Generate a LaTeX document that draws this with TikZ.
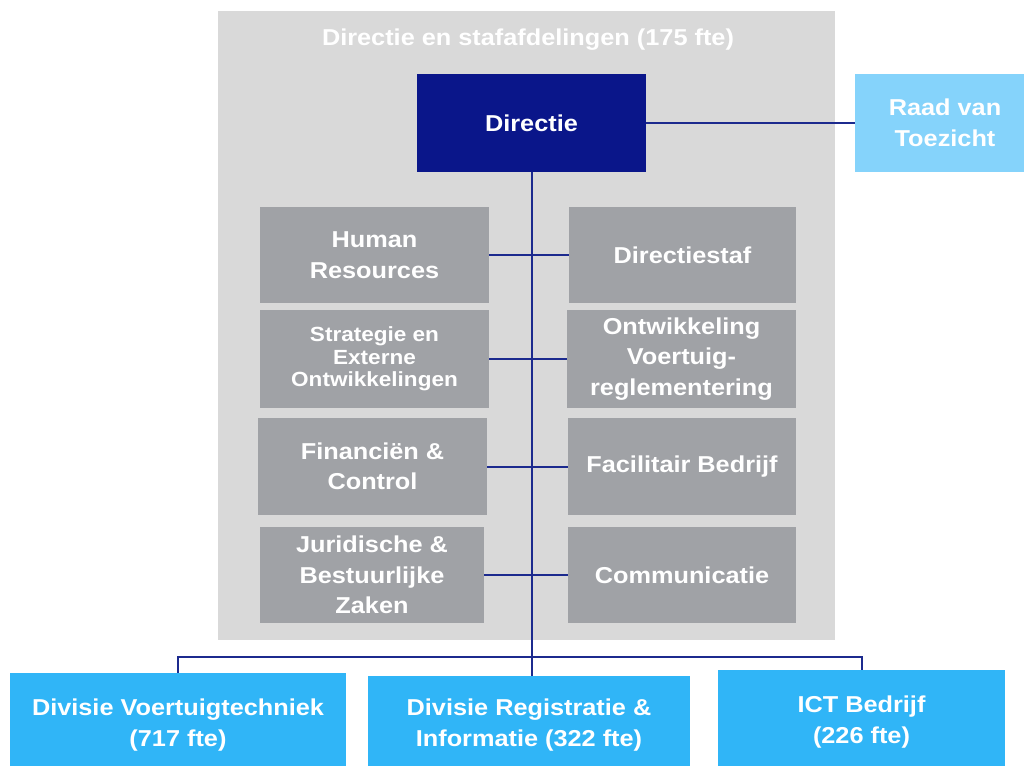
\documentclass[tikz,border=0pt]{standalone}
\usepackage{fontspec}
\setmainfont{Liberation Sans}[FakeStretch=1.1]
\definecolor{bgc}{HTML}{D9D9D9}
\definecolor{grayc}{HTML}{A0A2A6}
\definecolor{navyc}{HTML}{0A168A}
\definecolor{raadc}{HTML}{85D3FB}
\definecolor{divc}{HTML}{30B5F7}
\definecolor{linec}{HTML}{1C2A8E}
\newcommand\mainfnt{\fontsize{23}{30.5}\selectfont\bfseries}
\newcommand\smallfnt{\fontsize{20.5}{22.5}\selectfont\bfseries}
\tikzset{
  box/.style={rectangle, inner sep=0pt, align=center, text=white, font=\mainfnt},
  graybox/.style={box, fill=grayc},
  conn/.style={draw=linec, line width=2pt}
}
\begin{document}
\begin{tikzpicture}[x=1pt,y=-1pt]
\clip (0,0) rectangle (1024,765);
\fill[white] (0,0) rectangle (1024,765);
\fill[bgc] (218,11) rectangle (835,640);
\node[box] (title) at (528,40) {Directie en stafafdelingen (175 fte)};
\node[box, fill=navyc, minimum width=229pt, minimum height=98pt] (dir) at (531.5,123) {Directie};
\node[box, fill=raadc, minimum width=169pt, minimum height=98pt] (raad) at (939.5,123) {\hspace*{11pt}Raad van\\\hspace*{11pt}Toezicht};
\node[graybox, minimum width=229pt, minimum height=96pt] (hr) at (374.5,255) {Human\\Resources};
\node[graybox, font=\smallfnt, minimum width=229pt, minimum height=98pt] (strat) at (374.5,359) {Strategie en\\Externe\\Ontwikkelingen};
\node[graybox, minimum width=229pt, minimum height=97pt] (fin) at (372.5,466.5) {Financiën \&\\Control};
\node[graybox, minimum width=224pt, minimum height=96pt] (jur) at (372,575) {Juridische \&\\Bestuurlijke\\Zaken};
\node[graybox, minimum width=227pt, minimum height=96pt] (ds) at (682.5,255) {Directiestaf};
\node[graybox, minimum width=229pt, minimum height=98pt] (ont) at (681.5,359) {Ontwikkeling\\Voertuig-\\reglementering};
\node[graybox, minimum width=228pt, minimum height=97pt] (fac) at (682,466.5) {Facilitair Bedrijf};
\node[graybox, minimum width=228pt, minimum height=96pt] (com) at (682,575) {Communicatie};
\node[box, fill=divc, minimum width=336pt, minimum height=104pt] (vt) at (178,725) {Divisie Voertuigtechniek\\(717 fte)};
\node[box, fill=divc, minimum width=322pt, minimum height=98pt] (reg) at (529,725) {Divisie Registratie \&\\Informatie (322 fte)};
\node[box, fill=divc, minimum width=287pt, minimum height=104pt] (ict) at (861.5,722) {ICT Bedrijf\\(226 fte)};
\coordinate (bus) at (531.5,657);
\draw[conn] (dir.east) -- (raad.west);
\draw[conn] (dir.south) -- (dir.south |- reg.north);
\draw[conn] (hr.east) -- (ds.west);
\draw[conn] (strat.east) -- (ont.west);
\draw[conn] (fin.east) -- (fac.west);
\draw[conn] (jur.east) -- (com.west);
\draw[conn] (vt.north) |- (bus) -| (ict.north);
\end{tikzpicture}
\end{document}
